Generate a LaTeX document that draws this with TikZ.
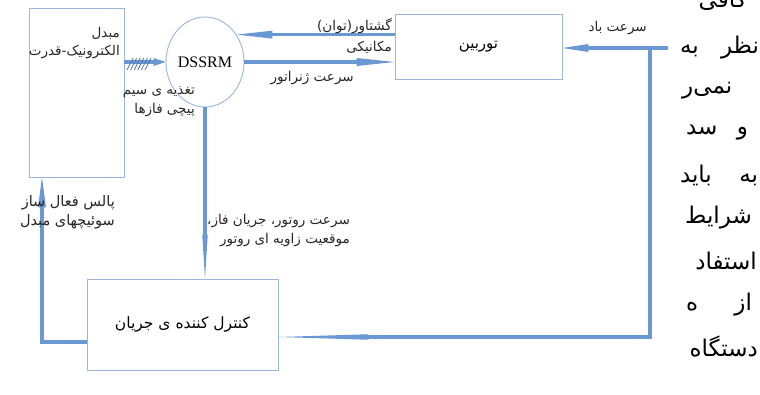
\documentclass[tikz,border=0pt]{standalone}
\usepackage{fontspec}
\setmainfont{Liberation Serif}
\newfontfamily\farsi[Script=Arabic]{DejaVu Sans}
\TeXXeTstate=1
\usetikzlibrary{shapes.geometric,arrows.meta}
\newcommand{\fa}[1]{{\farsi\beginR #1\endR}}
\definecolor{flowblue}{HTML}{6A98D3}
\definecolor{boxblue}{HTML}{9BB7DD}
\begin{document}
\begin{tikzpicture}
	[x=1pt,y=-1pt,
	blk/.style={rectangle,draw=boxblue,line width=0.9pt,fill=white,inner sep=0pt},
	flow/.style={draw=flowblue,line width=3.5pt},
	tip/.style={-{Triangle[length=#1,width=8pt,line width=0pt]}},
	thin tip/.style={-{Triangle[length=#1,width=5.5pt,line width=0pt]}},
	lbl/.style={font=\farsi\fontsize{13.5}{18.5}\selectfont,align=right,inner sep=0pt,text=black!85},
	col/.style={font=\farsi\fontsize{23}{25}\selectfont,inner sep=0pt,text=black}
	]
	\useasboundingbox (0,0) rectangle (760,394);

	% blocks
	\node[blk,minimum width=95pt,minimum height=169pt] (conv) at (76.5,92.5){};
	\node[blk,ellipse,draw=boxblue,minimum width=78pt,minimum height=90pt,font=\fontsize{16}{18}\selectfont] (dssrm) at (205,62){DSSRM};
	\node[blk,minimum width=167pt,minimum height=65pt,font=\farsi\fontsize{15}{17}\selectfont] (turb) at (478.5,46.5){\fa{توربین}};
	\node[blk,minimum width=191pt,minimum height=91pt,font=\farsi\fontsize{15.5}{17}\selectfont] (ctrl) at (182.5,324.5){\fa{کنترل کننده ی جریان}};

	\coordinate (wind) at (668,48);
	\coordinate (tap) at (650,48);
	\coordinate (back) at (650,337);
	\coordinate (fb) at (42,342);

	% connectors
	\draw[flow,tip=12pt] (conv.east |- dssrm.west) -- (dssrm.west);
	\foreach \i in {0,...,5}
		\draw[flowblue!80!black,line width=0.8pt] (127+\i*3.6,70) -- ++(6,-12);
	\draw[flow,tip=36pt] (turb.west |- dssrm.41) -- (dssrm.41);
	\draw[flow,tip=38pt] (dssrm.east) -- (turb.west |- dssrm.east);
	\draw[flow,tip=26pt] (wind) -- (turb.east |- wind);
	\draw[flow,thin tip=90pt] (tap) -- (back) -- (ctrl.east |- back);
	\draw[flow,thin tip=44pt] (dssrm.south) -- (dssrm.south |- ctrl.north);
	\draw[flow,tip=30pt] (ctrl.west |- fb) -- (fb) -- (fb |- conv.south);

	% labels
	\node[lbl,anchor=east] (convlbl) at (120,43){\fa{مبدل}\\\fa{الکترونیک-قدرت}};
	\node[lbl,anchor=east] (feedlbl) at (195,101.5){\fa{تغذیه ی سیم}\\\fa{پیچی فازها}};
	\node[lbl,anchor=east,font=\farsi\fontsize{13.5}{21}\selectfont] (torqlbl) at (392,35.5){\fa{گشتاور(توان)}\\\fa{مکانیکی}};
	\node[lbl,anchor=east] (speedlbl) at (354,78){\fa{سرعت ژنراتور}};
	\node[lbl,anchor=east] (windlbl) at (647,28){\fa{سرعت باد}};
	\node[lbl,anchor=east,font=\farsi\fontsize{14.5}{19}\selectfont] (pulselbl) at (115,212.5){\fa{پالس فعال ساز}\\\fa{سوئیچهای مبدل}};
	\node[lbl,anchor=east] (rotorlbl) at (350,230.5){\fa{سرعت روتور، جریان فاز،}\\\fa{موقعیت زاویه ای روتور}};

	% page text beside the figure
	\node[col,anchor=east] (t0) at (747,0){\fa{کافی}};
	\node[col,text width=79pt] (t1) at (719.5,48){\fa{به}\hfill\fa{نظر}};
	\node[col,anchor=west] (t2) at (682,91){\fa{نمی‌ر}};
	\node[col,text width=62pt] (t3) at (717,133){\fa{سد}\hfill\fa{و}};
	\node[col,text width=78pt] (t4) at (719,175){\fa{باید}\hfill\fa{به}};
	\node[col,anchor=east] (t5) at (752,218){\fa{شرایط}};
	\node[col,anchor=east] (t6) at (757,261){\fa{استفاد}};
	\node[col,text width=66pt] (t7) at (719,305){\fa{ه}\hfill\fa{از}};
	\node[col,anchor=east] (t8) at (758,347){\fa{دستگاه}};
\end{tikzpicture}
\end{document}
